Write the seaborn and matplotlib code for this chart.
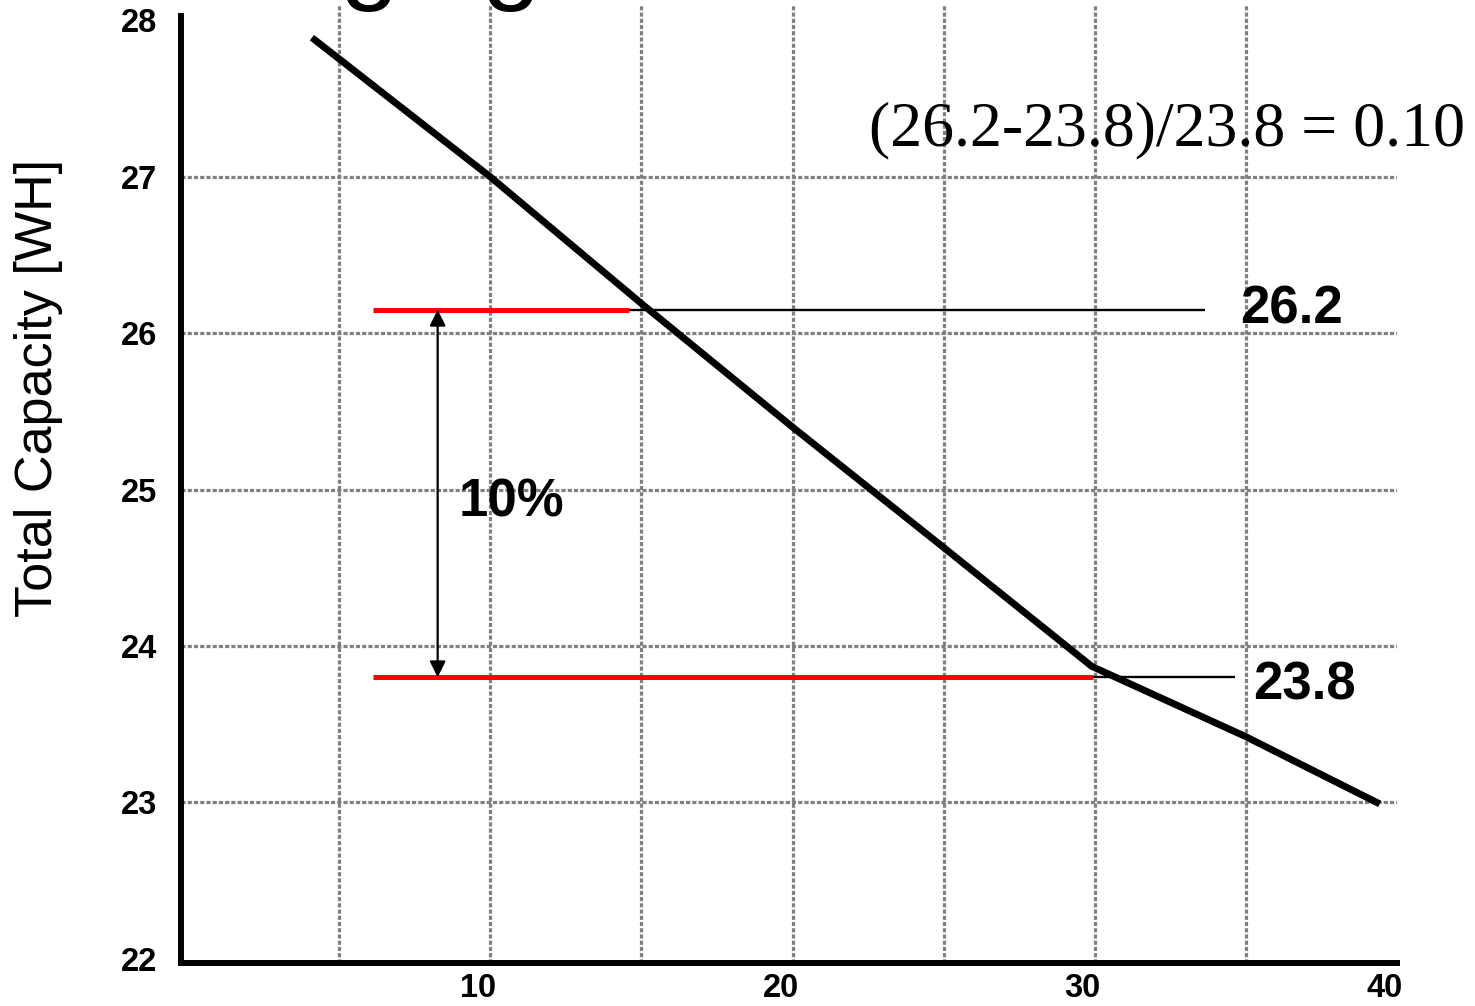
import matplotlib
matplotlib.use("Agg")
import matplotlib.pyplot as plt
import matplotlib.transforms as mtransforms
import numpy as np
import pandas as pd
import seaborn as sns

# ---------------- data ----------------
cycles = [4.1, 10, 15, 20, 25, 29.9, 35, 39.43]
capacity = [27.89, 27.0, 26.19, 25.40, 24.63, 23.87, 23.42, 22.99]

levels = [26.15, 23.80]
level_labels = ["26.2", "23.8"]
red_start = [6.12, 6.12]
red_end = [14.59, 29.94]
black_end = [33.64, 34.63]
label_x = [34.8, 35.23]
label_y = [26.065, 23.66]

arrow_x = 8.26
pct_text = "10%"
pct_pos = (8.96, 24.83)
formula_text = "(26.2-23.8)/23.8 = 0.10"
formula_pos = (22.53, 27.203)

x_ticks = [10, 20, 30, 40]
y_ticks = [22, 23, 24, 25, 26, 27, 28]
x_grid = [5, 10, 15, 20, 25, 30, 35]
y_grid = [23, 24, 25, 26, 27]

title_text = "Aging"
ylabel_text = "Total Capacity [WH]"

# ---------------- style ----------------
sns.set_style("white")
plt.rcParams["font.family"] = ["Liberation Sans", "DejaVu Sans"]

W, H = 1475, 1006
fig = plt.figure(figsize=(W / 100, H / 100), dpi=100)
ax = fig.add_axes([181 / W, (H - 963) / H, 1216 / W, 958.2 / H])

grid_kw = dict(color="#808080", lw=2.3, linestyle=(0, (1.3, 0.65)), zorder=1)
for gx in x_grid:
    ax.axvline(gx, **grid_kw)
for gy in y_grid:
    ax.axhline(gy, **grid_kw)

df = pd.DataFrame({"cycles": cycles, "capacity": capacity})
sns.lineplot(data=df, x="cycles", y="capacity", ax=ax, color="black",
             linewidth=5.0, sort=False, zorder=5, solid_capstyle="butt")

# reference levels: red segment + thin black continuation
for lv, rs, re_, be in zip(levels, red_start, red_end, black_end):
    ax.hlines(lv, re_, be, color="black", lw=1.7, zorder=3)
    ax.hlines(lv, rs, re_, color="#ff0000", lw=3.6, zorder=4)

for lab, lx, ly in zip(level_labels, label_x, label_y):
    ax.text(lx, ly, lab, fontsize=38, fontweight="bold", va="baseline",
            ha="left", color="black", zorder=6)

ax.annotate("", xy=(arrow_x, levels[1]), xytext=(arrow_x, levels[0]),
            arrowprops=dict(arrowstyle="<|-|>", color="black", lw=1.6,
                            shrinkA=0, shrinkB=0, mutation_scale=24),
            zorder=6)
ax.text(pct_pos[0], pct_pos[1], pct_text, fontsize=38, fontweight="bold",
        va="baseline", ha="left", color="black", zorder=6)

ax.text(formula_pos[0], formula_pos[1], formula_text, fontsize=46,
        family=["Liberation Serif", "DejaVu Serif"], va="baseline",
        ha="left", color="black", zorder=6)

# axes limits / spines
ax.set_xlim(-0.2316, 40.0)
ax.set_ylim(21.973, 28.1)
for side in ["top", "right"]:
    ax.spines[side].set_visible(False)
for side in ["left", "bottom"]:
    ax.spines[side].set_color("black")
    ax.spines[side].set_linewidth(4.3)
ax.spines["left"].set_bounds(21.973, 28.03)
ax.grid(False)

ax.set_xticks(x_ticks)
ax.set_xticklabels([str(t) for t in x_ticks])
ax.set_yticks(y_ticks)
ax.set_yticklabels([str(t) for t in y_ticks])
ax.tick_params(axis="both", length=0, labelsize=23.5, labelcolor="black")
ax.tick_params(axis="y", pad=17)
ax.tick_params(axis="x", pad=7)
for lbl in ax.get_xticklabels() + ax.get_yticklabels():
    lbl.set_fontweight("bold")
shift = mtransforms.ScaledTranslation(-12 / 100, 0, fig.dpi_scale_trans)
for lbl in ax.get_xticklabels():
    lbl.set_transform(lbl.get_transform() + shift)

ax.set_xlabel("")
ax.set_ylabel(ylabel_text, fontsize=37.5, color="black")
ax.yaxis.label.set_va("center")
ax.yaxis.set_label_coords(-0.1168, 0.6006)

# partially visible (cropped) title at the very top
fig.text(270 / W, 1 + 10 / H, title_text, fontsize=76.6, ha="left",
         va="baseline", color="black")

fig.savefig("out.png", dpi=100)
